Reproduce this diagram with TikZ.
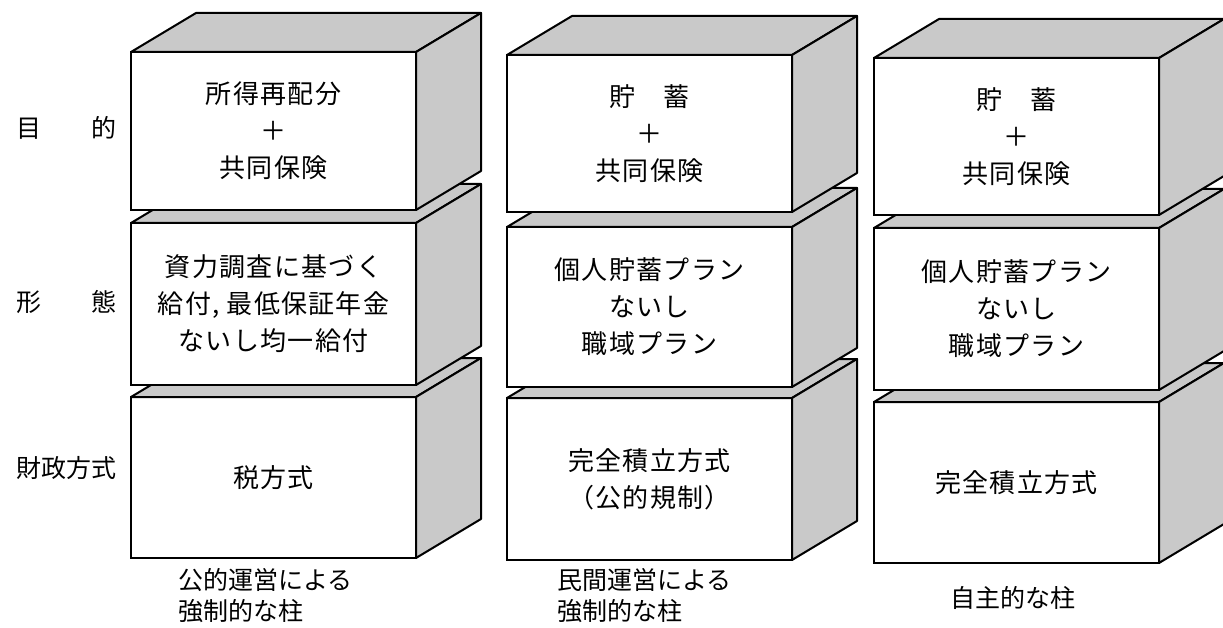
\documentclass[tikz,border=0pt]{standalone}
\usepackage{fontspec}
\newfontfamily\jp[LetterSpace=5]{Noto Sans CJK JP}
\newfontfamily\jplab{Noto Sans CJK JP}
\newcommand\pillarbox[5]{%
  \node[frontbox,minimum height=#4pt] (#1) at (#2,#3) {#5};
  \draw[face] (#1.north west) -- ([shift={(65,-39)}]#1.north west) -- ([shift={(65,-39)}]#1.north east) -- (#1.north east) -- cycle;
  \draw[face] (#1.north east) -- ([shift={(65,-39)}]#1.north east) -- ([shift={(65,-39)}]#1.south east) -- (#1.south east) -- cycle;
}
\begin{document}
\begin{tikzpicture}[x=1pt,y=-1pt,
  face/.style={draw=black,line width=2pt,line join=round,fill=gray!42},
  frontbox/.style={draw=black,line width=2pt,fill=white,anchor=north west,minimum width=285pt,inner sep=0pt,outer sep=0pt,align=center,font=\jp\fontsize{26}{37}\selectfont},
  rowlab/.style={anchor=east,font=\jplab\fontsize{25}{30}\selectfont,inner sep=0pt},
  collab/.style={align=left,font=\jplab\fontsize{25}{31}\selectfont,inner sep=0pt}]
\useasboundingbox (0,0) rectangle (1223,628);
% column 1
\pillarbox{c1bot}{131}{397}{161}{税方式}
\pillarbox{c1mid}{131}{223}{162}{資力調査に基づく\\給付, 最低保証年金\\ないし均一給付}
\pillarbox{c1top}{131}{52}{158}{所得再配分\\＋\\共同保険}
% column 2
\pillarbox{c2bot}{507}{398}{162}{完全積立方式\\（公的規制）}
\pillarbox{c2mid}{507}{227}{160}{個人貯蓄プラン\\ないし\\職域プラン}
\pillarbox{c2top}{507}{55}{157}{貯　蓄\\＋\\共同保険}
% column 3
\pillarbox{c3bot}{874}{402}{161}{完全積立方式}
\pillarbox{c3mid}{874}{228}{162}{個人貯蓄プラン\\ないし\\職域プラン}
\pillarbox{c3top}{874}{58}{157}{貯　蓄\\＋\\共同保険}
% row labels
\node[rowlab] (r1) at (117,128) {目　　的};
\node[rowlab] (r2) at (117,302) {形　　態};
\node[rowlab] (r3) at (117,468) {財政方式};
% column labels
\node[collab,anchor=north west] (l1) at (178,568) {公的運営による\\強制的な柱};
\node[collab,anchor=north west] (l2) at (557,568) {民間運営による\\強制的な柱};
\node[collab] (l3) at (1013,598) {自主的な柱};
\end{tikzpicture}
\end{document}
